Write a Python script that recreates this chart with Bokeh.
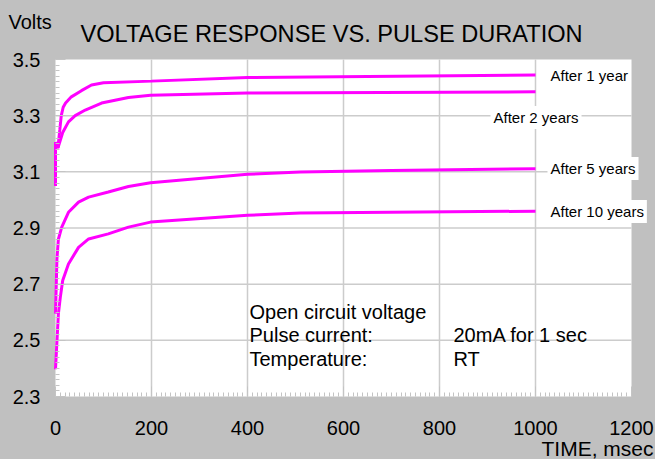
from bokeh.plotting import figure
from bokeh.models import Range1d, FixedTicker, Label, LinearAxis, BoxAnnotation
from bokeh.embed import file_html
from bokeh.resources import INLINE

# ---- data ----
t_1yr = [0, 0, 5, 9, 12, 16, 21, 33, 54, 75, 100, 200, 400, 1000]
v_1yr = [3.05, 3.205, 3.185, 3.25, 3.30, 3.33, 3.345, 3.367, 3.389, 3.409, 3.417, 3.423, 3.436, 3.445]

t_2yr = [0, 5, 15, 27, 41, 62, 96, 152, 198, 400, 1000]
v_2yr = [3.205, 3.185, 3.24, 3.278, 3.30, 3.32, 3.345, 3.365, 3.373, 3.381, 3.385]

t_5yr = [0, 3, 6, 13, 27, 48, 69, 110, 152, 198, 400, 510, 700, 1000]
v_5yr = [2.595, 2.79, 2.86, 2.903, 2.956, 2.992, 3.01, 3.028, 3.048, 3.061, 3.091, 3.099, 3.105, 3.111]

t_10yr = [0, 6, 10, 15, 27, 48, 69, 110, 152, 198, 400, 510, 1000]
v_10yr = [2.397, 2.594, 2.653, 2.713, 2.772, 2.831, 2.861, 2.879, 2.903, 2.921, 2.945, 2.953, 2.96]

series_names = ["After 1 year", "After 2 years", "After 5 years", "After 10 years"]
x_ticks = [0, 200, 400, 600, 800, 1000, 1200]
y_ticks = [2.3, 2.5, 2.7, 2.9, 3.1, 3.3, 3.5]

title_text = "VOLTAGE RESPONSE VS. PULSE DURATION"
y_title = "Volts"
x_title = "TIME, msec"
note_left = ["Open circuit voltage", "Pulse current:", "Temperature:"]
note_right = ["20mA for 1 sec", "RT"]

FONT = "Liberation Sans"
GRAY_BG = "#c0c0c0"
GRID = "#cccccc"
TICK = "#c4c4c4"
MAG = "#ff00ff"

X0, X1 = 0, 1200
Y0, Y1 = 2.3, 3.5

# page-pixel -> data helpers (plot area: x 55..631, y 59..396 on the page)
def tx(px):
    return (px - 55) / 0.48

def vy(py):
    return 3.5 - (py - 59) * 1.2 / 337

W, H = 655, 459
p = figure(width=W, height=H, min_border=0,
           x_range=Range1d(tx(0), tx(W)), y_range=Range1d(vy(H), vy(0)),
           x_axis_location=None, y_axis_location=None,
           output_backend="svg", toolbar_location=None)
p.border_fill_color = GRAY_BG
p.background_fill_color = GRAY_BG
p.outline_line_color = None
p.xgrid.visible = False
p.ygrid.visible = False

# white plotting area
p.add_layout(BoxAnnotation(left=X0, right=X1, bottom=Y0, top=Y1,
                           fill_color="white", fill_alpha=1.0,
                           line_color=None, level="underlay"))

# grid lines (at the major ticks, inside the plotting area)
gx = [t for t in x_ticks if X0 < t < X1]
gy = [v for v in y_ticks if Y0 < v < Y1]
p.segment(x0=gx, y0=[Y0] * len(gx), x1=gx, y1=[Y1] * len(gx),
          line_color=GRID, line_width=1.5)
p.segment(x0=[X0] * len(gy), y0=gy, x1=[X1] * len(gy), y1=gy,
          line_color=GRID, line_width=1.5)

xminor = [i * 10 for i in range(121)]
yminor = [round(2.3 + 0.02 * i, 2) for i in range(61)]

xax = LinearAxis(fixed_location=Y0, bounds=(X0, X1),
                 ticker=FixedTicker(ticks=x_ticks, minor_ticks=xminor))
yax = LinearAxis(fixed_location=X0, bounds=(Y0, Y1),
                 ticker=FixedTicker(ticks=y_ticks, minor_ticks=yminor))
xax.major_label_overrides = {t: str(t) for t in x_ticks}
yax.major_label_overrides = {t: f"{t:.1f}" for t in y_ticks}
for ax in (xax, yax):
    ax.axis_line_color = None
    ax.major_tick_in = 10
    ax.major_tick_out = 0
    ax.minor_tick_in = 4
    ax.minor_tick_out = 0
    ax.major_tick_line_color = TICK
    ax.minor_tick_line_color = TICK
    ax.major_label_text_font = FONT
    ax.major_label_text_font_size = "20px"
    ax.major_label_text_color = "black"
yax.major_label_standoff = 15
xax.major_label_standoff = 24
p.add_layout(xax, "below")
p.add_layout(yax, "left")

for t, v in [(t_1yr, v_1yr), (t_2yr, v_2yr), (t_5yr, v_5yr), (t_10yr, v_10yr)]:
    p.line(t, v, line_color=MAG, line_width=3)

def add_label(px, py, text, size, align="left", bg=None, pad=0):
    kw = {}
    if bg is not None:
        kw = dict(background_fill_color=bg, padding=pad)
    p.add_layout(Label(x=tx(px), y=vy(py), text=text, text_font=FONT,
                       text_font_size=size, text_align=align,
                       text_baseline="middle", text_color="black", **kw))

# title and axis titles
add_label(80, 33, title_text, "23.6px")
add_label(8, 21, y_title, "20px")
add_label(653, 448, x_title, "21px", align="right")

# series labels in white boxes
add_label(547, 75, series_names[0], "15px", bg="white", pad=3)
add_label(490, 117, series_names[1], "15px", bg="white", pad=3)
add_label(547, 168, series_names[2], "15px", bg="white", pad=3)
add_label(547, 211, series_names[3], "15px", bg="white", pad=3)

# note block
for i, s in enumerate(note_left):
    add_label(249, 311 + 23.5 * i, s, "20px")
for i, s in enumerate(note_right):
    add_label(453, 334.5 + 23.5 * i, s, "20px")

html = file_html(p, INLINE).replace("<head>", "<head><style>body{background:#c0c0c0;}</style>", 1)
open("out.html", "w").write(html)
